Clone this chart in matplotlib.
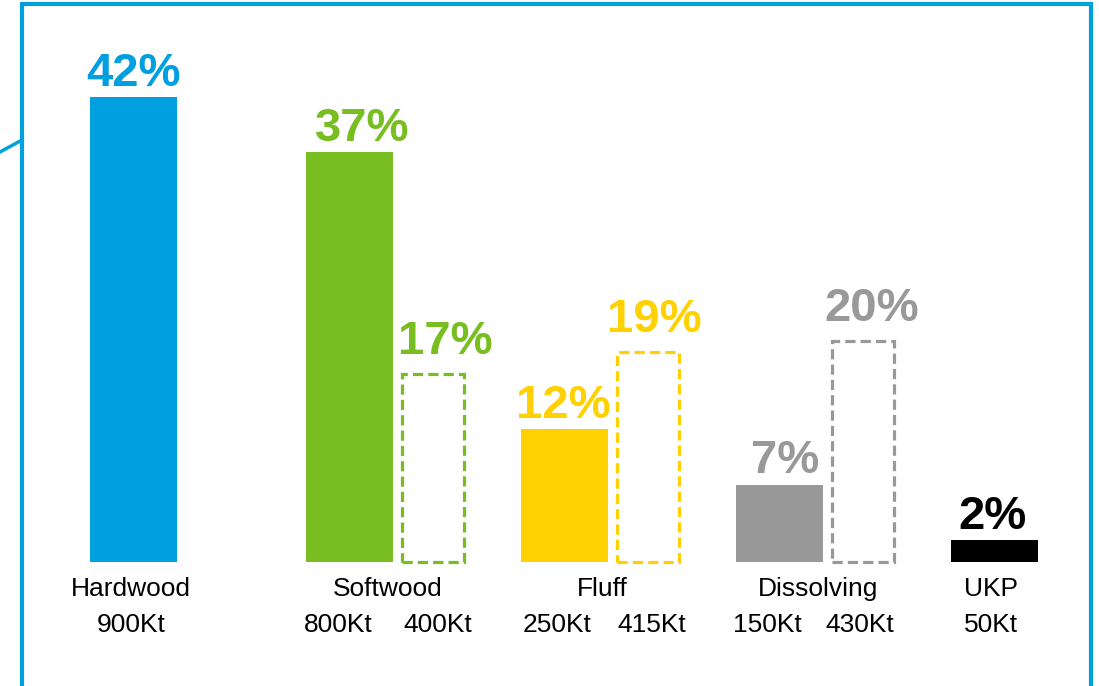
import matplotlib.pyplot as plt
from matplotlib.patches import Rectangle

# Pulp grade shares: today (solid) and added capacity (dashed)
categories = ['Hardwood', 'Softwood', 'Fluff', 'Dissolving', 'UKP']
current_share = [42, 37, 12, 7, 2]
future_share = [None, 17, 19, 20, None]
current_volume = ['900Kt', '800Kt', '250Kt', '150Kt', '50Kt']
future_volume = [None, '400Kt', '415Kt', '430Kt', None]
colors = ['#009FDF', '#78BE20', '#FFD100', '#999999', '#000000']

# layout (horizontal, in figure pixels)
solid_x = [133.5, 349.5, 564, 779, 994]
dashed_x = [None, 433, 647.5, 863, None]
solid_w = 87
dashed_w = 62
solid_label_dx = [0, 13, -1, 6, -1]
dashed_label_dx = [None, 12, 7, 9, None]
volume_x = [131, 338, 557, 767, 991]
future_volume_x = [None, 438, 652, 860, None]

W, H = 1099, 686
baseline_px = 562
px_per_pct = 11.07

plt.rcParams['font.family'] = ['Liberation Sans', 'DejaVu Sans']

fig = plt.figure(figsize=(W / 100, H / 100), dpi=100)
ax = fig.add_axes([0, 0, 1, 1])
ax.set_xlim(0, W)
ax.set_ylim(-(H - baseline_px) / px_per_pct, baseline_px / px_per_pct)
ax.axis('off')

label_kw = dict(ha='center', va='baseline', fontsize=34, fontweight='bold')

for i, cat in enumerate(categories):
    c = colors[i]
    v = current_share[i]
    ax.bar(solid_x[i], v, width=solid_w, color=c, bottom=0)
    ax.annotate(f'{v}%', (solid_x[i] + solid_label_dx[i], v), xytext=(0, 8),
                textcoords='offset points', color=c, **label_kw)

    fv = future_share[i]
    if fv is not None:
        rect = Rectangle((dashed_x[i] - dashed_w / 2, 0), dashed_w, fv,
                         fill=False, edgecolor=c, linewidth=2.3,
                         linestyle=(0, (3.2, 1.6)))
        ax.add_patch(rect)
        ax.annotate(f'{fv}%', (dashed_x[i] + dashed_label_dx[i], fv), xytext=(0, 14),
                    textcoords='offset points', color=c, **label_kw)

# category names and volumes, placed in pixel rows below the baseline
name_y = 1 - 589 / H
vol_y = 1 - 625 / H
for i, cat in enumerate(categories):
    if dashed_x[i] is not None:
        cx = (solid_x[i] - solid_w / 2 + dashed_x[i] + dashed_w / 2) / 2 + 3
    else:
        cx = volume_x[i]
    ax.text(cx, name_y, cat, transform=ax.get_xaxis_transform(),
            ha='center', va='center', fontsize=19)
    ax.text(volume_x[i], vol_y, current_volume[i], transform=ax.get_xaxis_transform(),
            ha='center', va='center', fontsize=19)
    if future_volume[i] is not None:
        ax.text(future_volume_x[i], vol_y, future_volume[i],
                transform=ax.get_xaxis_transform(),
                ha='center', va='center', fontsize=19)

# blue frame with a callout stub on the left
frame = fig.add_axes([0, 0, 1, 1], facecolor='none')
frame.set_xlim(0, W)
frame.set_ylim(H, 0)
frame.axis('off')
blue = '#00A0DF'
frame.plot([22, 22, 1090.5, 1090.5], [H + 5, 4, 4, H + 5], color=blue, lw=3,
           solid_joinstyle='miter', clip_on=False)
frame.plot([0, 22], [152, 140], color=blue, lw=2.5)

fig.savefig('out.png', dpi=100)
